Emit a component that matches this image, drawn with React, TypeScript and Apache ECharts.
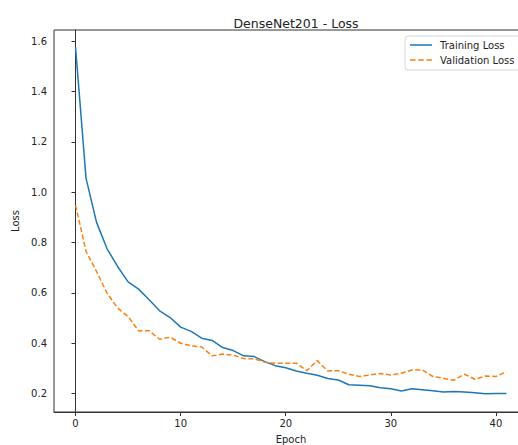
import React, { useEffect, useRef } from "react";
import * as echarts from "echarts";

const epochs: number[] = Array.from({ length: 42 }, (_, i) => i);
const trainingLoss: number[] = [
  1.575, 1.055, 0.88, 0.775, 0.705, 0.644, 0.615, 0.573, 0.529, 0.502,
  0.464, 0.447, 0.42, 0.411, 0.383, 0.371, 0.35, 0.347, 0.327, 0.311,
  0.303, 0.29, 0.281, 0.273, 0.26, 0.254, 0.235, 0.233, 0.231, 0.223,
  0.219, 0.21, 0.219, 0.215, 0.211, 0.206, 0.208, 0.206, 0.203, 0.199,
  0.2, 0.2,
];
const validationLoss: number[] = [
  0.948, 0.765, 0.685, 0.599, 0.54, 0.506, 0.449, 0.45, 0.416, 0.424,
  0.4, 0.39, 0.385, 0.35, 0.357, 0.353, 0.339, 0.338, 0.325, 0.321,
  0.321, 0.321, 0.291, 0.331, 0.29, 0.291, 0.277, 0.268, 0.274, 0.28,
  0.274, 0.281, 0.294, 0.294, 0.268, 0.261, 0.253, 0.277, 0.257, 0.27,
  0.268, 0.287,
];
const xTicks: number[] = [0, 10, 20, 30, 40];
const yTicks: number[] = [0.2, 0.4, 0.6, 0.8, 1.0, 1.2, 1.4, 1.6];

const FONT = "DejaVu Sans";
const SOLID_ICON = "path://M0,0h22v1.5h-22z";
const DASH_ICON = "path://M0,0h5.5v1.5h-5.5z M8.2,0h5.5v1.5h-5.5z M16.4,0h5.5v1.5h-5.5z";

export default function App() {
  const ref = useRef<HTMLDivElement>(null);
  useEffect(() => {
    if (!ref.current) return;
    const chart = echarts.init(ref.current, undefined, { renderer: "svg" });
    chart.setOption({
      animation: false,
      backgroundColor: "#ffffff",
      textStyle: { fontFamily: FONT },
      title: {
        text: "DenseNet201 - Loss",
        left: 291,
        textAlign: "center",
        top: 12,
        textStyle: { fontFamily: FONT, fontSize: 12.5, fontWeight: "normal", color: "#222" },
      },
      legend: {
        orient: "vertical",
        left: 405,
        top: 36,
        itemWidth: 22,
        itemHeight: 1.5,
        itemGap: 5,
        padding: [4, 6, 5, 5],
        backgroundColor: "#ffffff",
        borderColor: "#d6d6d6",
        borderWidth: 1,
        borderRadius: 3,
        textStyle: { fontFamily: FONT, fontSize: 10, color: "#222", padding: [0, 0, 0, 3] },
        data: [
          { name: "Training Loss", icon: SOLID_ICON, itemStyle: { color: "#1f77b4" } },
          { name: "Validation Loss", icon: DASH_ICON, itemStyle: { color: "#ff7f0e" } },
        ],
      },
      grid: {
        left: 54,
        right: 12,
        top: 30,
        bottom: 33,
        outerBoundsMode: "none",
        containLabel: false,
        show: true,
        borderColor: "#333",
        borderWidth: 1,
        backgroundColor: "transparent",
      },
      xAxis: {
        type: "value",
        min: -2.05,
        max: 43.05,
        name: "Epoch",
        nameLocation: "middle",
        nameGap: 22,
        nameTextStyle: { fontFamily: FONT, fontSize: 10, color: "#222" },
        axisLine: { show: true, lineStyle: { color: "#333", width: 1 } },
        axisTick: { show: true, customValues: xTicks, length: 4, lineStyle: { color: "#333" } },
        axisLabel: { customValues: xTicks, fontFamily: FONT, fontSize: 10, color: "#222", margin: 6 },
        splitLine: { show: false },
      },
      yAxis: {
        type: "value",
        min: 0.127,
        max: 1.644,
        name: "Loss",
        nameLocation: "middle",
        nameGap: 23,
        nameTextStyle: { fontFamily: FONT, fontSize: 10, color: "#222" },
        axisLine: { show: true, lineStyle: { color: "#333", width: 1 } },
        axisTick: { show: true, customValues: yTicks, length: 4, lineStyle: { color: "#333" } },
        axisLabel: {
          customValues: yTicks,
          fontFamily: FONT,
          fontSize: 10,
          color: "#222",
          margin: 7,
          formatter: (v: number) => v.toFixed(1),
        },
        splitLine: { show: false },
      },
      series: [
        {
          name: "Training Loss",
          type: "line",
          data: epochs.map((e, i) => [e, trainingLoss[i]]),
          symbol: "none",
          lineStyle: { color: "#1f77b4", width: 1.5 },
          itemStyle: { color: "#1f77b4" },
        },
        {
          name: "Validation Loss",
          type: "line",
          data: epochs.map((e, i) => [e, validationLoss[i]]),
          symbol: "none",
          lineStyle: { color: "#ff7f0e", width: 1.5, type: [5, 2.5] },
          itemStyle: { color: "#ff7f0e" },
        },
      ],
    });
    return () => chart.dispose();
  }, []);
  return (
    <div style={{ position: "fixed", left: 0, top: 0, width: 518, height: 445, overflow: "hidden", background: "#fff" }}>
      <div ref={ref} style={{ width: 540, height: 445 }} />
    </div>
  );
}
